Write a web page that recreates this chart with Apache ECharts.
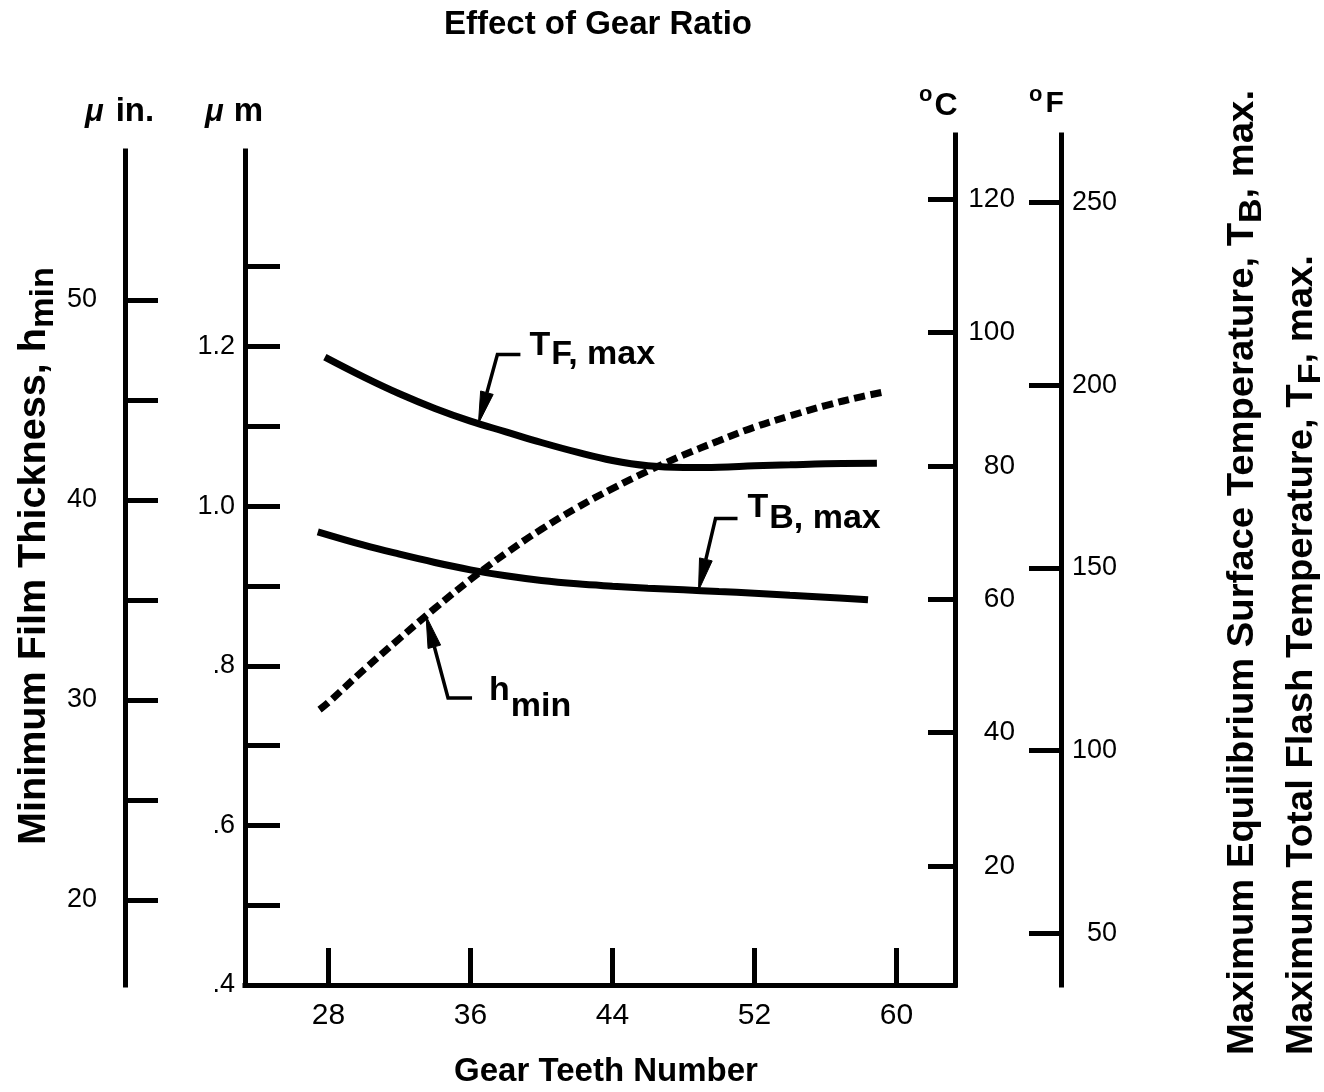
<!DOCTYPE html>
<html>
<head>
<meta charset="utf-8">
<title>Effect of Gear Ratio</title>
<script src="https://cdn.jsdelivr.net/npm/echarts@6/dist/echarts.min.js"></script>
<style>
  html, body { margin: 0; padding: 0; background: #ffffff; }
  #chart { width: 1324px; height: 1092px; }
</style>
</head>
<body>
<div id="chart"></div>
<script>
// ---- data -------------------------------------------------------------
// Total flash temperature T_F,max (deg C) against gear teeth number
const tfTeeth = [27.8, 30, 32, 34, 36, 38, 40, 42, 44, 46, 48, 50, 52, 54, 56, 58.9];
const tfTempC = [96.3, 93.3, 90.8, 88.6, 86.7, 85.1, 83.5, 82.05, 80.8, 80.0, 79.75, 79.8, 80.0, 80.15, 80.3, 80.4];

// Equilibrium surface temperature T_B,max (deg C)
const tbTeeth = [27.4, 30, 32, 34, 36, 38, 40, 42, 44, 46, 48, 50, 52, 54, 56, 58.4];
const tbTempC = [70.1, 68.1, 66.75, 65.5, 64.4, 63.5, 62.8, 62.3, 61.95, 61.65, 61.4, 61.15, 60.9, 60.6, 60.3, 59.9];

// Minimum film thickness h_min (micrometres)
const hTeeth = [27.5, 28, 30, 32, 34, 36, 38, 40, 42, 44, 46, 48, 50, 52, 54, 56, 58, 59.3];
const hMinUm = [0.745, 0.754, 0.795, 0.834, 0.872, 0.908, 0.941, 0.971, 0.998, 1.022, 1.044, 1.064, 1.082, 1.099, 1.113, 1.126, 1.137, 1.143];

// ---- ticks and labels -------------------------------------------------
const teethTicks = [28, 36, 44, 52, 60];
const umTicks = [0.5, 0.6, 0.7, 0.8, 0.9, 1.0, 1.1, 1.2, 1.3];
const umLabels = [0.4, 0.6, 0.8, 1.0, 1.2];
const uinTicks = [20, 25, 30, 35, 40, 45, 50];
const uinLabels = [20, 30, 40, 50];
const degCTicks = [20, 40, 60, 80, 100, 120];
const degFTicks = [50, 100, 150, 200, 250];

// ---- styling ----------------------------------------------------------
const INK = '#000000';
const FONT = "'Liberation Sans', Arial, Helvetica, sans-serif";
const AXIS_W = 5;

function zip(xs, ys) { return xs.map((x, i) => [x, ys[i]]); }

function yAxisCfg(o) {
  return {
    gridIndex: o.grid, type: 'value', position: o.position, offset: o.offset,
    min: o.min, max: o.max,
    axisLine: { show: true, onZero: false, lineStyle: { color: INK, width: AXIS_W, cap: 'square' } },
    axisTick: { show: true, inside: true, length: o.tickLen, customValues: o.ticks,
                lineStyle: { color: INK, width: AXIS_W } },
    axisLabel: { show: true, inside: false, customValues: o.labels, margin: o.margin,
                 align: o.align, fontSize: o.fontSize, color: INK, fontFamily: FONT,
                 formatter: o.formatter },
    splitLine: { show: false }
  };
}

const chart = echarts.init(document.getElementById('chart'), null, { renderer: 'canvas' });

const option = {
  animation: false,
  backgroundColor: '#ffffff',
  grid: [
    { left: 245, top: 151, width: 710, height: 834 },   // film thickness frame
    { left: 245, top: 135, width: 710, height: 850 }    // temperature frame
  ],
  xAxis: [
    {
      gridIndex: 0, type: 'value', min: 23.3, max: 63.3, position: 'bottom',
      axisLine: { show: true, onZero: false, lineStyle: { color: INK, width: AXIS_W, cap: 'square' } },
      axisTick: { show: true, inside: true, length: 37, customValues: teethTicks,
                  lineStyle: { color: INK, width: AXIS_W } },
      axisLabel: { show: true, customValues: teethTicks, margin: 16, fontSize: 30,
                   color: INK, fontFamily: FONT },
      splitLine: { show: false }
    },
    { gridIndex: 1, type: 'value', min: 23.3, max: 63.3, show: false }
  ],
  yAxis: [
    yAxisCfg({ grid: 0, position: 'left', offset: 0, min: 0.4, max: 1.445,
               ticks: umTicks, labels: umLabels, tickLen: 35, margin: 10, fontSize: 27,
               formatter: v => (v < 1 ? v.toFixed(1).slice(1) : v.toFixed(1)) }),
    yAxisCfg({ grid: 0, position: 'left', offset: 120, min: 15.75, max: 57.45,
               ticks: uinTicks, labels: uinLabels, tickLen: 33, margin: 28, fontSize: 27 }),
    yAxisCfg({ grid: 1, position: 'right', offset: 0, min: 2.13, max: 129.62,
               ticks: degCTicks, labels: degCTicks, tickLen: 27, margin: 60, align: 'right', fontSize: 28 }),
    yAxisCfg({ grid: 1, position: 'right', offset: 106, min: 35.85, max: 268.47,
               ticks: degFTicks, labels: degFTicks, tickLen: 32, margin: 56, align: 'right', fontSize: 27 })
  ],
  series: [
    {
      name: 'h min', type: 'line', xAxisIndex: 0, yAxisIndex: 0,
      data: zip(hTeeth, hMinUm), smooth: 0.4, symbol: 'none', silent: true,
      lineStyle: { color: INK, width: 7, type: [11, 5.5], cap: 'butt' }
    },
    {
      name: 'TF max', type: 'line', xAxisIndex: 1, yAxisIndex: 2,
      data: zip(tfTeeth, tfTempC), smooth: 0.4, symbol: 'none', silent: true,
      lineStyle: { color: INK, width: 7 }
    },
    {
      name: 'TB max', type: 'line', xAxisIndex: 1, yAxisIndex: 2,
      data: zip(tbTeeth, tbTempC), smooth: 0.4, symbol: 'none', silent: true,
      lineStyle: { color: INK, width: 7 }
    }
  ]
};
chart.setOption(option);

// ---- text helpers -----------------------------------------------------
const measureCtx = document.createElement('canvas').getContext('2d');
function fontStr(p) {
  return (p.style || 'normal') + ' ' + (p.weight || 'bold') + ' ' + p.size + 'px ' + (p.family || FONT);
}
function widthOf(p) { measureCtx.font = fontStr(p); return measureCtx.measureText(p.t).width; }

// Lays pieces of text side by side on a common baseline; p.dy lowers a piece.
function textRun(pieces, x0, base) {
  let x = x0;
  const items = [];
  pieces.forEach(p => {
    x += p.pre || 0;
    items.push({
      type: 'text', x: x, y: base + (p.dy || 0) - 0.3465 * p.size, silent: true,
      style: { text: p.t, font: fontStr(p), fill: INK, align: 'left', verticalAlign: 'middle' }
    });
    x += widthOf(p);
  });
  return { items: items, width: x - x0 };
}

function interp(t, xs, ys) {
  for (let i = 1; i < xs.length; i++) {
    if (t <= xs[i]) {
      const f = (t - xs[i - 1]) / (xs[i] - xs[i - 1]);
      return ys[i - 1] + f * (ys[i] - ys[i - 1]);
    }
  }
  return ys[ys.length - 1];
}

const graphics = [];

// title and axis names
graphics.push({ type: 'text', x: 598, y: 25, silent: true,
  style: { text: 'Effect of Gear Ratio', font: fontStr({ size: 33 }), fill: INK, align: 'center', verticalAlign: 'middle' } });
graphics.push({ type: 'text', x: 606, y: 1072, silent: true,
  style: { text: 'Gear Teeth Number', font: fontStr({ size: 33 }), fill: INK, align: 'center', verticalAlign: 'middle' } });

// unit headers above the scales
textRun([{ t: '\u03bc', size: 31, style: 'italic' }, { t: 'in.', size: 33, pre: 12 }], 85, 123).items.forEach(g => graphics.push(g));
textRun([{ t: '\u03bc', size: 31, style: 'italic' }, { t: 'm', size: 33, pre: 10 }], 205, 123).items.forEach(g => graphics.push(g));
textRun([{ t: 'o', size: 22, dy: -14 }, { t: 'C', size: 32, pre: 2 }], 919, 117).items.forEach(g => graphics.push(g));
textRun([{ t: 'o', size: 22, dy: -11 }, { t: 'F', size: 30, pre: 3 }], 1029, 114).items.forEach(g => graphics.push(g));

// rotated axis titles (read bottom to top); `length` fixes the run length along the text
function rotated(pieces, baseX, startY, length, centred) {
  const run = textRun(pieces, 0, 0);
  const k = length ? length / run.width : 1;
  const y = centred ? startY + (run.width * k) / 2 : startY;
  return { type: 'group', x: baseX, y: y, rotation: Math.PI / 2, scaleX: k, silent: true, children: run.items };
}
graphics.push(rotated([{ t: 'Minimum Film Thickness, h', size: 38 }, { t: 'min', size: 33, dy: 7 }], 48, 556, 578, true));
graphics.push(rotated([{ t: 'Maximum Equilibrium Surface Temperature, T', size: 36 },
                       { t: 'B', size: 32, dy: 7 }, { t: ', max.', size: 36 }], 1256, 1055, 965, false));
graphics.push(rotated([{ t: 'Maximum Total Flash Temperature, T', size: 36 },
                       { t: 'F', size: 32, dy: 7 }, { t: ', max.', size: 36 }], 1315, 1055, 800, false));

// curve call-outs: arrow from a labelled elbow to a point on the curve
const notes = [
  { series: 1, xs: tfTeeth, ys: tfTempC, at: 36.45, elbow: [19, -69], run: 23, gap: 9,
    lead: 'T', rest: 'F, max', leadBase: 3, restBase: 12 },
  { series: 2, xs: tbTeeth, ys: tbTempC, at: 48.85, elbow: [17, -72], run: 22, gap: 10,
    lead: 'T', rest: 'B, max', leadBase: 1, restBase: 12 },
  { series: 0, xs: hTeeth, ys: hMinUm, at: 33.5, elbow: [22, 82], run: 24, gap: 17,
    lead: 'h', rest: 'min', leadBase: 5, restBase: 21 }
];
notes.forEach(n => {
  const tip = chart.convertToPixel({ seriesIndex: n.series }, [n.at, interp(n.at, n.xs, n.ys)]);
  const ex = tip[0] + n.elbow[0], ey = tip[1] + n.elbow[1];
  const dx = tip[0] - ex, dy = tip[1] - ey, len = Math.hypot(dx, dy);
  const ux = dx / len, uy = dy / len;
  const headLen = 32, headHalf = 6.5;
  const bx = tip[0] - ux * headLen, by = tip[1] - uy * headLen;
  graphics.push({ type: 'polyline', silent: true,
    shape: { points: [[ex + n.run, ey], [ex, ey], [bx, by]] },
    style: { stroke: INK, lineWidth: 3.5, fill: null, lineJoin: 'miter' } });
  graphics.push({ type: 'polygon', silent: true,
    shape: { points: [[tip[0], tip[1]], [bx - uy * headHalf, by + ux * headHalf], [bx + uy * headHalf, by - ux * headHalf]] },
    style: { fill: INK, stroke: INK, lineWidth: 1 } });
  const lx = ex + n.run + n.gap;
  const lead = textRun([{ t: n.lead, size: 34 }], lx, ey + n.leadBase);
  lead.items.forEach(g => graphics.push(g));
  textRun([{ t: n.rest, size: 34 }], lx + lead.width + 1, ey + n.restBase).items.forEach(g => graphics.push(g));
});

chart.setOption({ graphic: { elements: graphics } });
</script>
</body>
</html>
